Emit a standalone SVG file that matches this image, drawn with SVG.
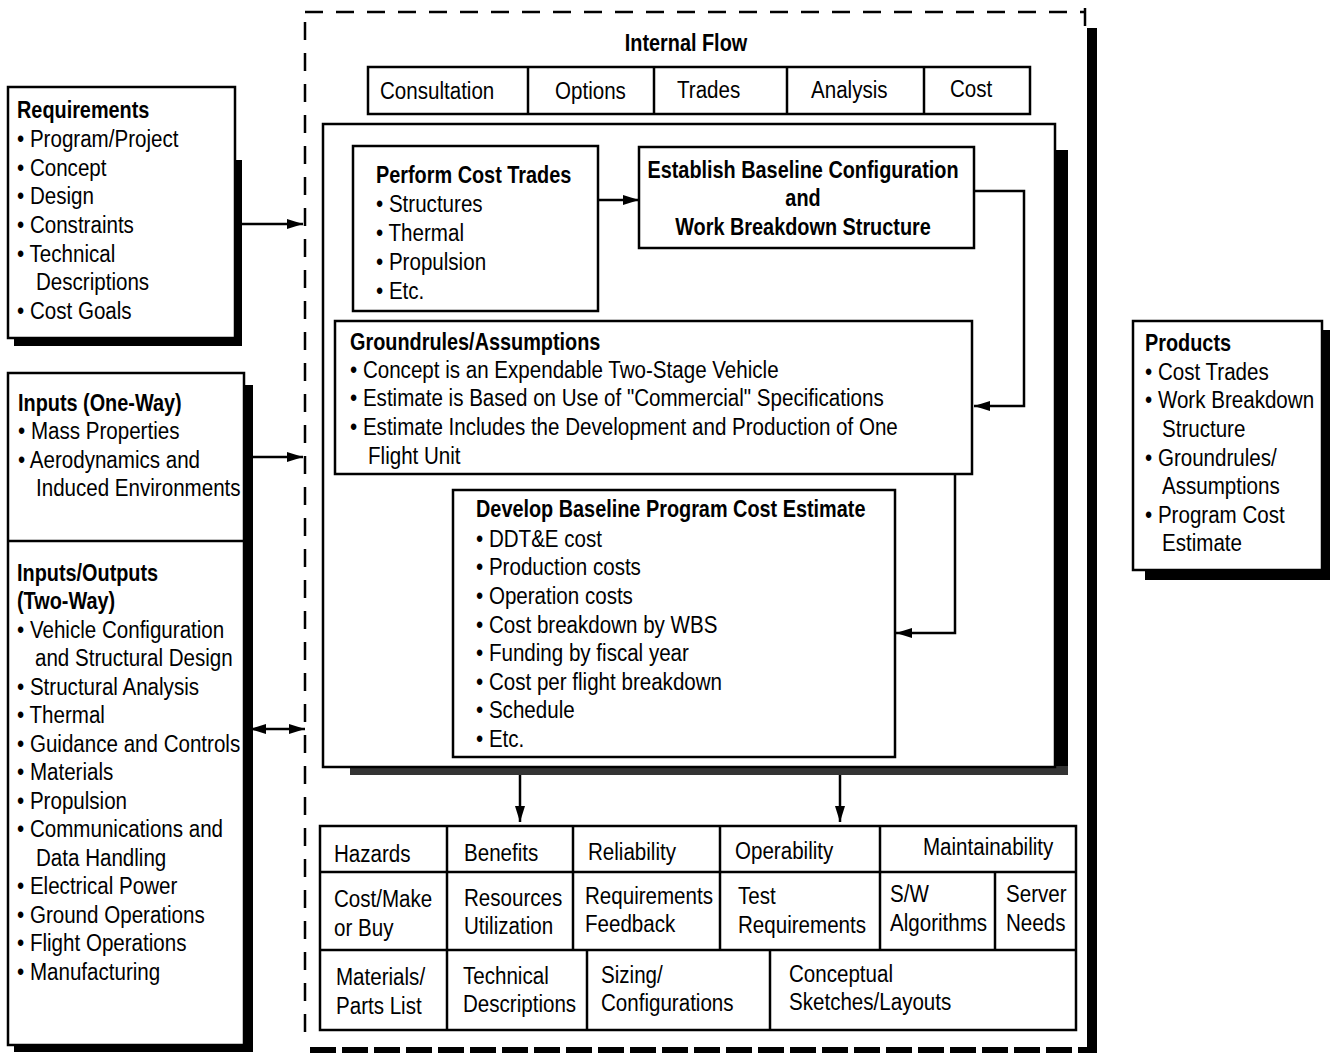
<svg xmlns="http://www.w3.org/2000/svg" width="1331" height="1055" viewBox="0 0 1331 1055">
<style>
text{font-family:"Liberation Sans",Arial,sans-serif;font-size:23.5px;fill:#000;transform-box:fill-box;transform-origin:0% 50%;transform:scaleX(0.875)}
.b{font-weight:bold;transform:scaleX(0.845)}
.mid{text-anchor:middle;transform-origin:50% 50%}
.box{fill:#fff;stroke:#000;stroke-width:2.5}
.sh{fill:#000}
.ln{fill:none;stroke:#000;stroke-width:2.5}
.dash{fill:none;stroke:#000;stroke-width:2.5;stroke-dasharray:18 13}
</style>
<defs>
<marker id="ah" viewBox="0 0 16 10" refX="16" refY="5" markerWidth="16" markerHeight="10" markerUnits="userSpaceOnUse" orient="auto-start-reverse">
<path d="M0,0 L16,5 L0,10 z" fill="#000"/>
</marker>
</defs>
<rect width="1331" height="1055" fill="#fff"/>

<g id="outer-boundary">
<line class="dash" x1="305" y1="12" x2="1085" y2="12"/>
<line class="dash" x1="305" y1="22" x2="305" y2="1045"/>
<line class="ln" x1="1085" y1="8" x2="1085" y2="26"/>
<rect class="sh" x="1087" y="28" width="10" height="1024"/>
<line x1="310" y1="1050" x2="1097" y2="1050" stroke="#000" stroke-width="6" stroke-dasharray="26 6"/>
</g>

<g id="internal-flow">
<text class="b mid" x="686" y="51">Internal Flow</text>
<rect class="box" x="368" y="67" width="662" height="47"/>
<line class="ln" x1="528" y1="67" x2="528" y2="114"/>
<line class="ln" x1="654" y1="67" x2="654" y2="114"/>
<line class="ln" x1="787" y1="67" x2="787" y2="114"/>
<line class="ln" x1="924" y1="67" x2="924" y2="114"/>
<text x="380" y="99">Consultation</text>
<text x="555" y="99">Options</text>
<text x="677" y="98">Trades</text>
<text x="811" y="98">Analysis</text>
<text x="950" y="97">Cost</text>
</g>

<g id="process-frame">
<rect class="sh" x="1055" y="150" width="13" height="625"/>
<rect x="350" y="766" width="718" height="9" fill="#333"/>
<rect class="box" x="323" y="124" width="732" height="643"/>
</g>

<g id="perform-cost-trades">
<rect class="box" x="353" y="146" width="245" height="165"/>
<text class="b" x="376" y="183">Perform Cost Trades</text>
<text x="376" y="212">• Structures</text>
<text x="376" y="241">• Thermal</text>
<text x="376" y="270">• Propulsion</text>
<text x="376" y="299">• Etc.</text>
</g>

<g id="establish-baseline">
<rect class="box" x="639" y="147" width="335" height="101"/>
<text class="b mid" x="803" y="178">Establish Baseline Configuration</text>
<text class="b mid" x="803" y="206">and</text>
<text class="b mid" x="803" y="235">Work Breakdown Structure</text>
</g>

<g id="groundrules">
<rect class="box" x="335" y="321" width="637" height="153"/>
<text class="b" x="350" y="350">Groundrules/Assumptions</text>
<text x="350" y="378">• Concept is an Expendable Two-Stage Vehicle</text>
<text x="350" y="406">• Estimate is Based on Use of "Commercial" Specifications</text>
<text x="350" y="435">• Estimate Includes the Development and Production of One</text>
<text x="368" y="464">Flight Unit</text>
</g>

<g id="develop-estimate">
<rect class="box" x="453" y="490" width="442" height="267"/>
<text class="b" x="476" y="517">Develop Baseline Program Cost Estimate</text>
<text x="476" y="547">• DDT&amp;E cost</text>
<text x="476" y="575">• Production costs</text>
<text x="476" y="604">• Operation costs</text>
<text x="476" y="633">• Cost breakdown by WBS</text>
<text x="476" y="661">• Funding by fiscal year</text>
<text x="476" y="690">• Cost per flight breakdown</text>
<text x="476" y="718">• Schedule</text>
<text x="476" y="747">• Etc.</text>
</g>

<g id="outputs-table">
<rect class="box" x="320" y="826" width="756" height="204"/>
<line class="ln" x1="320" y1="872" x2="1076" y2="872"/>
<line class="ln" x1="320" y1="950" x2="1076" y2="950"/>
<line class="ln" x1="447" y1="826" x2="447" y2="950"/>
<line class="ln" x1="573" y1="826" x2="573" y2="950"/>
<line class="ln" x1="720" y1="826" x2="720" y2="950"/>
<line class="ln" x1="880" y1="826" x2="880" y2="950"/>
<line class="ln" x1="995" y1="872" x2="995" y2="950"/>
<line class="ln" x1="447" y1="950" x2="447" y2="1030"/>
<line class="ln" x1="587" y1="950" x2="587" y2="1030"/>
<line class="ln" x1="770" y1="950" x2="770" y2="1030"/>
<text x="334" y="862">Hazards</text>
<text x="464" y="861">Benefits</text>
<text x="588" y="860">Reliability</text>
<text x="735" y="859">Operability</text>
<text x="923" y="855">Maintainability</text>
<text x="334" y="907">Cost/Make</text>
<text x="334" y="936">or Buy</text>
<text x="464" y="906">Resources</text>
<text x="464" y="934">Utilization</text>
<text x="585" y="904">Requirements</text>
<text x="585" y="932">Feedback</text>
<text x="738" y="904">Test</text>
<text x="738" y="933">Requirements</text>
<text x="890" y="902">S/W</text>
<text x="890" y="931">Algorithms</text>
<text x="1006" y="902">Server</text>
<text x="1006" y="931">Needs</text>
<text x="336" y="985">Materials/</text>
<text x="336" y="1014">Parts List</text>
<text x="463" y="984">Technical</text>
<text x="463" y="1012">Descriptions</text>
<text x="601" y="983">Sizing/</text>
<text x="601" y="1011">Configurations</text>
<text x="789" y="982">Conceptual</text>
<text x="789" y="1010">Sketches/Layouts</text>
</g>

<g id="requirements">
<rect class="sh" x="235" y="160" width="7" height="186"/>
<rect class="sh" x="14" y="338" width="228" height="8"/>
<rect class="box" x="8" y="87" width="227" height="251"/>
<text class="b" x="17" y="118">Requirements</text>
<text x="17" y="147">• Program/Project</text>
<text x="17" y="176">• Concept</text>
<text x="17" y="204">• Design</text>
<text x="17" y="233">• Constraints</text>
<text x="17" y="262">• Technical</text>
<text x="36" y="290">Descriptions</text>
<text x="17" y="319">• Cost Goals</text>
</g>

<g id="inputs">
<rect class="sh" x="244" y="385" width="9" height="667"/>
<rect class="sh" x="14" y="1045" width="239" height="7"/>
<rect class="box" x="8" y="373" width="236" height="672"/>
<line class="ln" x1="8" y1="541" x2="244" y2="541"/>
<text class="b" x="18" y="411">Inputs (One-Way)</text>
<text x="18" y="439">• Mass Properties</text>
<text x="18" y="468">• Aerodynamics and</text>
<text x="36" y="496">Induced Environments</text>
<text class="b" x="17" y="581">Inputs/Outputs</text>
<text class="b" x="17" y="609">(Two-Way)</text>
<text x="17" y="638">• Vehicle Configuration</text>
<text x="35" y="666">and Structural Design</text>
<text x="17" y="695">• Structural Analysis</text>
<text x="17" y="723">• Thermal</text>
<text x="17" y="752">• Guidance and Controls</text>
<text x="17" y="780">• Materials</text>
<text x="17" y="809">• Propulsion</text>
<text x="17" y="837">• Communications and</text>
<text x="36" y="866">Data Handling</text>
<text x="17" y="894">• Electrical Power</text>
<text x="17" y="923">• Ground Operations</text>
<text x="17" y="951">• Flight Operations</text>
<text x="17" y="980">• Manufacturing</text>
</g>

<g id="products">
<rect class="sh" x="1322" y="330" width="8" height="250"/>
<rect class="sh" x="1145" y="570" width="185" height="10"/>
<rect class="box" x="1133" y="321" width="189" height="249"/>
<text class="b" x="1145" y="351">Products</text>
<text x="1145" y="380">• Cost Trades</text>
<text x="1145" y="408">• Work Breakdown</text>
<text x="1162" y="437">Structure</text>
<text x="1145" y="466">• Groundrules/</text>
<text x="1162" y="494">Assumptions</text>
<text x="1145" y="523">• Program Cost</text>
<text x="1162" y="551">Estimate</text>
</g>

<g id="connectors">
<line class="ln" x1="235" y1="224" x2="303" y2="224" marker-end="url(#ah)"/>
<line class="ln" x1="253" y1="457" x2="303" y2="457" marker-end="url(#ah)"/>
<line class="ln" x1="250" y1="729" x2="305" y2="729" marker-start="url(#ah)" marker-end="url(#ah)"/>
<line class="ln" x1="598" y1="200" x2="639" y2="200" marker-end="url(#ah)"/>
<polyline class="ln" points="974,191 1024,191 1024,406 974,406" marker-end="url(#ah)"/>
<polyline class="ln" points="955,474 955,633 896,633" marker-end="url(#ah)"/>
<line class="ln" x1="520" y1="775" x2="520" y2="822" marker-end="url(#ah)"/>
<line class="ln" x1="840" y1="775" x2="840" y2="822" marker-end="url(#ah)"/>
</g>
</svg>
